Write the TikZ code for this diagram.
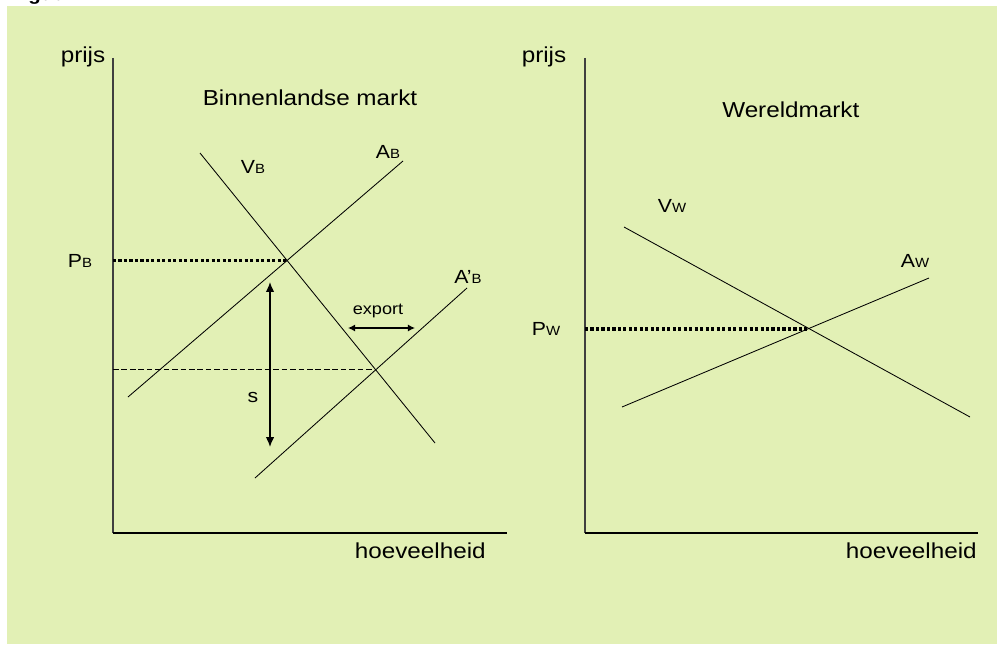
\documentclass[tikz,border=0pt]{standalone}
\usepackage{fontspec}
\setmainfont{Liberation Sans}[FakeStretch=1.12]
\usetikzlibrary{arrows.meta}
\definecolor{chartgreen}{RGB}{226,240,181}
\newcommand\crv[2]{#1{\fontsize{9.5}{10}\selectfont #2}}
\begin{document}
\begin{tikzpicture}[x=0.025cm,y=-0.025cm,
    axis/.style={black!75,line width=0.9pt},
    curve/.style={black,line width=0.6pt},
    dotline/.style={black,line width=2.3pt,dash pattern=on 2.2pt off 1.7pt},
    lbl/.style={inner sep=0pt,font=\fontsize{13.5}{15}\selectfont},
    txt/.style={inner sep=0pt,font=\fontsize{15.4}{18}\selectfont}]
    \useasboundingbox (0,0) rectangle (997,644);
    \fill[chartgreen] (7,6) rectangle (997,644);
    \node[anchor=base west,inner sep=0pt,font=\bfseries\fontsize{13}{15}\selectfont] (fig) at (10,1) {Figuur};
    % binnenlandse markt
    \draw[axis] (113,58) -- (113,533);
    \draw[black,line width=0.8pt] (113,533) -- (507,533);
    \node[txt] (prijsB) at (83,57) {prijs};
    \node[txt] (titleB) at (310,98) {Binnenlandse markt};
    \node[txt,anchor=east] (qB) at (486,551) {hoeveelheid};
    \coordinate (EB) at (287,260.5);
    \coordinate (EB2) at (376,369.5);
    \draw[curve] (200,153) -- (435,443);
    \draw[curve] (128,397) -- (403,161);
    \draw[curve] (255,478) -- (467,288);
    \draw[dotline] (113,260.5) -- (EB);
    \draw[black,line width=0.6pt,dash pattern=on 4pt off 2pt] (113,369.5) -- (EB2);
    \draw[{Latex[length=7pt,width=6pt]}-{Latex[length=7pt,width=6pt]},line width=1pt] (270,282) -- (270,447);
    \draw[{Latex[length=5pt,width=5pt]}-{Latex[length=5pt,width=5pt]},line width=0.9pt] (348,328) -- (415,328);
    \node[lbl] (VB) at (253,167) {\crv{V}{B}};
    \node[lbl] (AB) at (388,152) {\crv{A}{B}};
    \node[lbl,anchor=west] (AaB) at (454,277) {\crv{A’}{B}};
    \node[lbl] (PB) at (80,261) {\crv{P}{B}};
    \node[lbl] (s) at (253,397) {s};
    \node[inner sep=0pt,font=\fontsize{11.5}{13}\selectfont] (exp) at (378,311) {export};
    % wereldmarkt
    \draw[axis] (585,58) -- (585,533);
    \draw[black,line width=0.8pt] (585,533) -- (978,533);
    \node[txt] (prijsW) at (544,57) {prijs};
    \node[txt,anchor=west] (titleW) at (722,110) {Wereldmarkt};
    \node[txt,anchor=east] (qW) at (977,551) {hoeveelheid};
    \coordinate (EW) at (809,329);
    \draw[curve] (624,227) -- (970,417);
    \draw[curve] (622,407) -- (929,278);
    \draw[dotline] (585,329) -- (EW);
    \node[lbl] (VW) at (672,206) {\crv{V}{W}};
    \node[lbl] (AW) at (915,261) {\crv{A}{W}};
    \node[lbl] (PW) at (546,329) {\crv{P}{W}};
\end{tikzpicture}
\end{document}
